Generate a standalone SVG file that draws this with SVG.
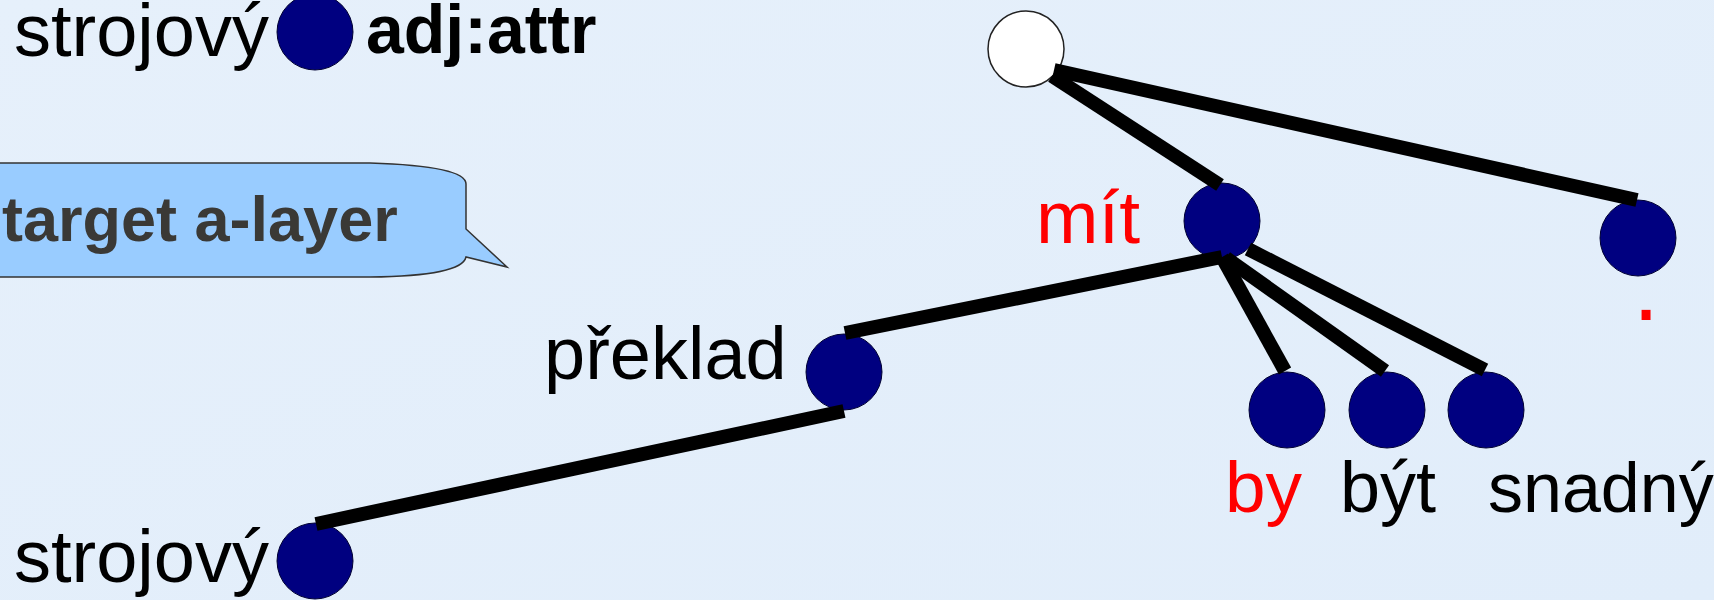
<svg xmlns="http://www.w3.org/2000/svg" width="1714" height="600" viewBox="0 0 1714 600">
<defs>
<linearGradient id="bg" x1="0" y1="0" x2="1" y2="1">
<stop offset="0" stop-color="#e6f0fb"/>
<stop offset="1" stop-color="#e1edfa"/>
</linearGradient>
<style>
.t{font-family:"Liberation Sans",Arial,sans-serif;font-size:74px;fill:#000}
.r{fill:#ff0000}
.b{font-weight:bold}
.n{fill:#000080;stroke:#000033;stroke-width:1}
.w{fill:#ffffff;stroke:#222;stroke-width:1.5}
.e{stroke:#000;stroke-width:14;stroke-linecap:butt;fill:none}
</style>
</defs>
<rect width="1714" height="600" fill="url(#bg)"/>

<g id="legend">
<text class="t" x="14" y="56">strojový</text>
<circle class="n" cx="315" cy="32" r="38"/>
<text class="t b" x="366" y="53" style="font-size:68px">adj:attr</text>
</g>

<g id="callout">
<path d="M -5 163 H 370 Q 466 166 466 184 V 229 L 507 267 L 466 257 Q 462 276 370 277 H -5 Z" fill="#99ccff" stroke="#333" stroke-width="1.5"/>
<text class="t b" x="2" y="241" style="font-size:63px;fill:#3a3936">target a-layer</text>
</g>

<g id="node-root">
<circle class="w" cx="1026" cy="49" r="38"/>
</g>
<g id="node-mit">
<circle class="n" cx="1222" cy="221" r="38"/>
<text class="t r" x="1036" y="243" style="font-size:75px">mít</text>
</g>
<g id="node-dot">
<circle class="n" cx="1638" cy="238" r="38"/>
<text class="t r" x="1633" y="320" style="font-size:94px">.</text>
</g>
<g id="node-preklad">
<circle class="n" cx="844" cy="372" r="38"/>
<text class="t" x="544" y="379">překlad</text>
</g>
<g id="node-strojovy">
<circle class="n" cx="315" cy="561" r="38"/>
<text class="t" x="14" y="582">strojový</text>
</g>
<g id="node-by">
<circle class="n" cx="1287" cy="410" r="38"/>
<text class="t r" x="1225" y="512" style="font-size:73px">by</text>
</g>
<g id="node-byt">
<circle class="n" cx="1387" cy="410" r="38"/>
<text class="t" x="1340" y="512" style="font-size:72px">být</text>
</g>
<g id="node-snadny">
<circle class="n" cx="1486" cy="410" r="38"/>
<text class="t" x="1488" y="512" style="font-size:70px">snadný</text>
</g>

<g id="connectors">
<line class="e" x1="1052" y1="76" x2="1220" y2="185"/>
<line class="e" x1="1054" y1="70" x2="1637" y2="200"/>
<line class="e" x1="1222" y1="257" x2="845" y2="333"/>
<line class="e" x1="844" y1="411" x2="316" y2="524"/>
<line class="e" x1="1222" y1="257" x2="1285" y2="371"/>
<line class="e" x1="1226" y1="258" x2="1385" y2="371"/>
<line class="e" x1="1248" y1="249" x2="1485" y2="370"/>
</g>
</svg>
